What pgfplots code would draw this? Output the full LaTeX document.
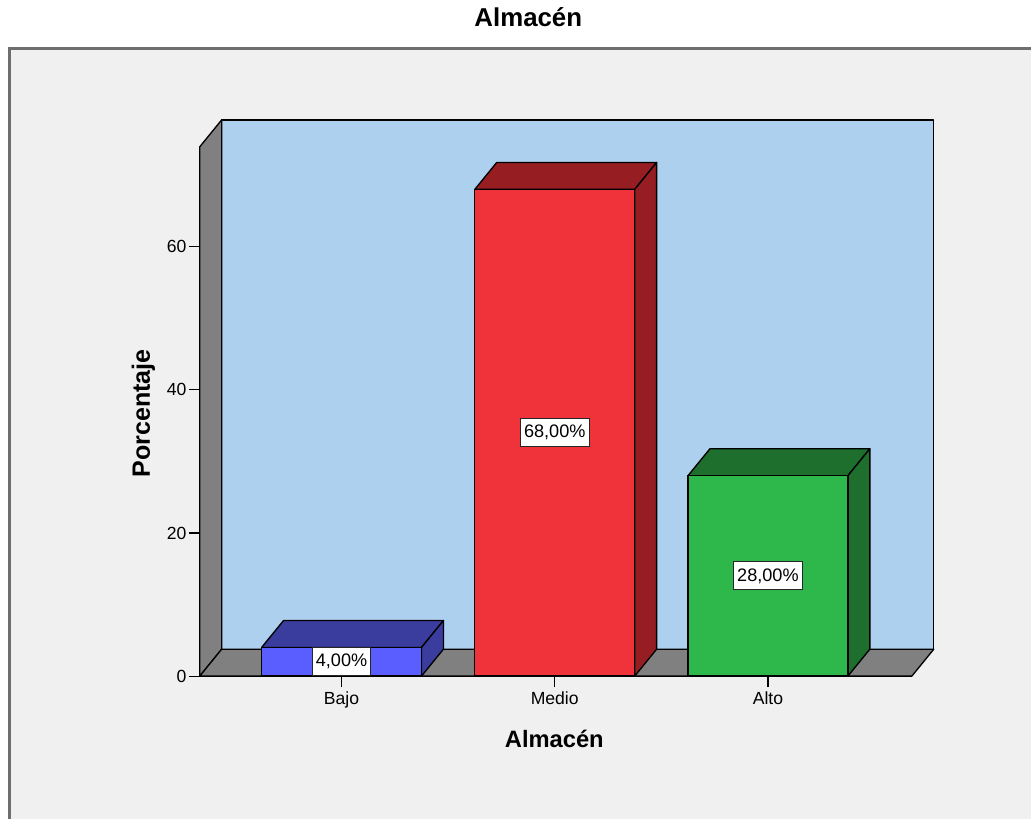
\documentclass[border=0pt]{standalone}
\usepackage{fontspec}
\setmainfont{Liberation Sans}
\usepackage{pgfplots}
\pgfplotsset{compat=1.18}
\definecolor{bgc}{HTML}{F0F0F0}
\definecolor{framec}{HTML}{6E6E6E}
\definecolor{wallc}{HTML}{ADD0EE}
\definecolor{grayc}{HTML}{808080}
\definecolor{blueF}{HTML}{5A5EFF}
\definecolor{blueD}{HTML}{3A3C9E}
\definecolor{redF}{HTML}{F0323A}
\definecolor{redD}{HTML}{961E23}
\definecolor{greenF}{HTML}{2EB84B}
\definecolor{greenD}{HTML}{1E6E2E}
\begin{document}
\begin{tikzpicture}
\begin{scope}[x=0.75pt,y=0.75pt]
\fill[white] (0,0) rectangle (1032,820);
\fill[bgc] (9.5,0) rectangle (1032,771.5);
\draw[framec, line width=2pt] (9.5,0) -- (9.5,771.5) -- (1032,771.5);
\useasboundingbox (0,0) rectangle (1032,820);
\end{scope}
\begin{axis}[
  at={(150pt,107.25pt)}, anchor=south west,
  scale only axis, width=551.25pt, height=417.75pt,
  xmin=-0.665, xmax=2.778, ymin=0, ymax=77.72,
  clip=false,
  axis x line*=bottom, axis y line*=left,
  axis line style={draw=none},
  tick align=outside, major tick length=8.25pt,
  tick style={black, line width=0.9pt},
  xtick={0,1,2}, xticklabels={Bajo,Medio,Alto},
  ytick={0,20,40,60},
  /pgf/number format/assume math mode=true,
  tick label style={font=\fontsize{13.2}{15}\selectfont, text=black},
  yticklabel style={inner xsep=1.5pt},
  title={Almacén},
  title style={at={(axis description cs:0.4476,1.1526)}, anchor=base, font=\bfseries\fontsize{19.4}{22}\selectfont},
  xlabel={Almacén},
  xlabel style={at={(axis description cs:0.483,-0.1275)}, anchor=base, font=\bfseries\fontsize{17.8}{21}\selectfont},
  ylabel={Porcentaje},
  ylabel style={at={(axis description cs:-0.068,0.472)}, anchor=base, font=\bfseries\fontsize{18.8}{21}\selectfont},
]
% walls
\addplot[fill=wallc, draw=black, line width=1pt, line join=round, mark=none]
  coordinates {(-0.562,3.767) (2.778,3.767) (2.778,77.72) (-0.562,77.72) (-0.562,3.767)};
\addplot[fill=grayc, draw=black, line width=1pt, line join=round, mark=none]
  coordinates {(-0.665,0) (-0.562,3.767) (-0.562,77.72) (-0.665,73.95) (-0.665,0)};
\addplot[fill=grayc, draw=black, line width=1pt, line join=round, mark=none]
  coordinates {(-0.665,0) (2.675,0) (2.778,3.767) (-0.562,3.767) (-0.665,0)};
% Bajo
\addplot[fill=blueD, draw=black, line width=1pt, line join=round, mark=none]
  coordinates {(-0.375,4) (0.375,4) (0.478,7.767) (-0.272,7.767) (-0.375,4)};
\addplot[fill=blueD, draw=black, line width=1pt, line join=round, mark=none]
  coordinates {(0.375,0) (0.478,3.767) (0.478,7.767) (0.375,4) (0.375,0)};
\addplot[ybar, bar width=0.75, bar shift=0pt, fill=blueF, draw=black, line width=1pt]
  coordinates {(0,4)};
% Medio
\addplot[fill=redD, draw=black, line width=1pt, line join=round, mark=none]
  coordinates {(0.625,68) (1.375,68) (1.478,71.767) (0.728,71.767) (0.625,68)};
\addplot[fill=redD, draw=black, line width=1pt, line join=round, mark=none]
  coordinates {(1.375,0) (1.478,3.767) (1.478,71.767) (1.375,68) (1.375,0)};
\addplot[ybar, bar width=0.75, bar shift=0pt, fill=redF, draw=black, line width=1pt]
  coordinates {(1,68)};
% Alto
\addplot[fill=greenD, draw=black, line width=1pt, line join=round, mark=none]
  coordinates {(1.625,28) (2.375,28) (2.478,31.767) (1.728,31.767) (1.625,28)};
\addplot[fill=greenD, draw=black, line width=1pt, line join=round, mark=none]
  coordinates {(2.375,0) (2.478,3.767) (2.478,31.767) (2.375,28) (2.375,0)};
\addplot[ybar, bar width=0.75, bar shift=0pt, fill=greenF, draw=black, line width=1pt]
  coordinates {(2,28)};
% labels
\tikzset{vlab/.style={draw=black!85, fill=white, line width=0.8pt, inner xsep=2.8pt, inner ysep=0pt, minimum height=21pt, font=\fontsize{13.6}{15}\selectfont}}
\node[vlab] at (axis cs:0,2) {4,00\%};
\node[vlab] at (axis cs:1,34) {68,00\%};
\node[vlab] at (axis cs:2,14) {28,00\%};
\end{axis}
\end{tikzpicture}
\end{document}
